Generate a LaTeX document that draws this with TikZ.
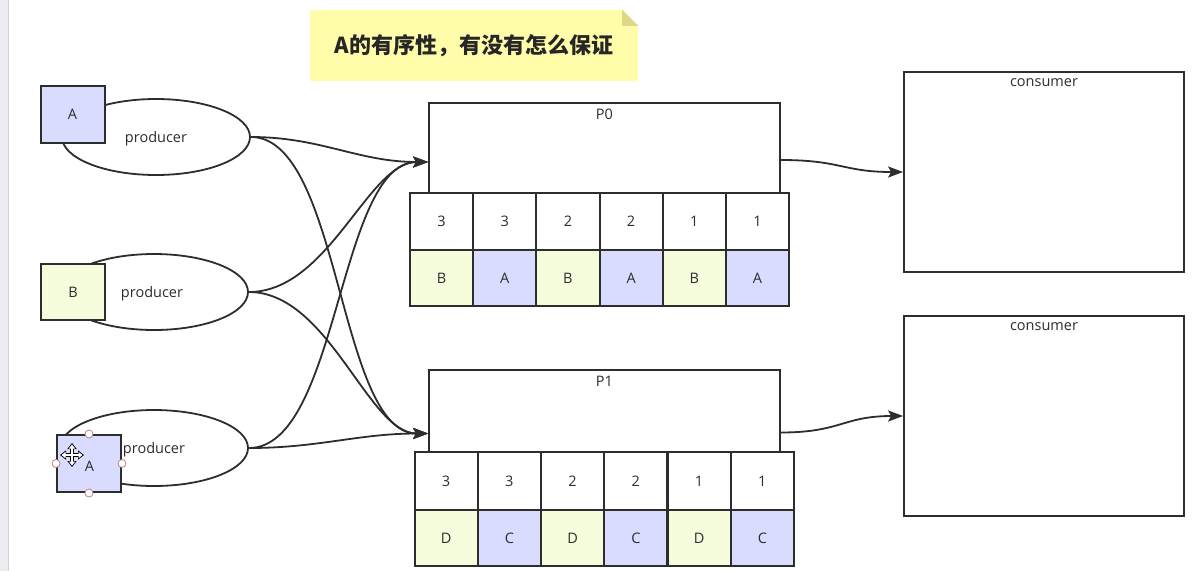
\documentclass[tikz,border=0pt]{standalone}
\usepackage{fontspec}
\setmainfont{Open Sans}
\newfontfamily\cjk{Noto Sans CJK SC}
\usetikzlibrary{arrows.meta,shapes.geometric}

\definecolor{linegray}{RGB}{45,45,45}
\definecolor{lavender}{RGB}{218,220,255}
\definecolor{paleyellow}{RGB}{246,253,220}
\definecolor{notefill}{RGB}{255,253,170}
\definecolor{notefold}{RGB}{222,216,134}
\definecolor{handlered}{RGB}{190,130,130}
\definecolor{stripgray}{RGB}{236,237,240}

\begin{document}
\begin{tikzpicture}[x=1pt,y=1pt,yscale=-1,
	txt/.style={font=\fontsize{14.5}{17}\selectfont, text=linegray},
	keybox/.style={rectangle, draw=linegray, line width=2pt, inner sep=0pt, minimum width=64pt, minimum height=57pt, txt},
	prod/.style={ellipse, draw=linegray, line width=1.8pt, fill=white, minimum width=188pt, minimum height=76pt, inner sep=0pt},
	partbox/.style={rectangle, draw=linegray, line width=1.8pt, fill=white, inner sep=0pt},
	cellbox/.style={rectangle, draw=linegray, line width=2pt, inner sep=0pt, minimum width=63.2pt, minimum height=57pt, txt},
	toplabel/.style={txt, anchor=north, inner sep=7pt},
	flow/.style={draw=linegray, line width=1.8pt, -{Stealth[length=15pt,width=11pt,inset=3pt]}},
	handle/.style={circle, draw=handlered, fill=white, line width=0.8pt, minimum size=8pt, inner sep=0pt}]
	\useasboundingbox (0,0) rectangle (1201,571);
	
	%Shape: side strip
	\fill[stripgray] (0,0) rectangle (8,571);
	\draw[gray!35] (8,0) -- (8,571);
	
	%Shape: Note
	\node[rectangle, fill=notefill, minimum width=328pt, minimum height=71pt, inner sep=0pt, font=\cjk\bfseries\fontsize{22}{26}\selectfont, text=black!85] (note) at (474,45.5) {A的有序性，有没有怎么保证};
	\fill[white] ([xshift=-16pt]note.north east) -- (note.north east) -- ([yshift=16pt]note.north east) -- cycle;
	\fill[notefold] ([xshift=-16pt]note.north east) -- ([yshift=16pt]note.north east) -- ([xshift=-16pt,yshift=16pt]note.north east) -- cycle;
	
	%Shape: producers
	\node[prod] (e1) at (156,137) {};
	\node[prod] (e2) at (154,292) {};
	\node[prod] (e3) at (154,448) {};
	% Text Node
	\node[txt] (e1t) at (156,138.5) {producer};
	\node[txt] (e2t) at (152,293.5) {producer};
	
	%Shape: key boxes
	\node[keybox, fill=lavender] (A1) at (72.5,114.5) {A};
	\node[keybox, fill=paleyellow, minimum height=56pt] (B2) at (73,292) {B};
	\node[keybox, fill=lavender] (A3) at (89,463.5) {};
	\node[txt] (A3t) at (89.5,466) {A};
	% Text Node
	\node[txt] (e3t) at (154,449.5) {producer};
	\foreach \a in {north,south,west,east}
		\node[handle] (h\a) at (A3.\a) {};
	% move cursor
	\coordinate (mv) at (72,455);
	\draw[black, line width=4.2pt, {Triangle[length=6pt,width=9pt]}-{Triangle[length=6pt,width=9pt]}] ([xshift=-12pt]mv) -- ([xshift=12pt]mv);
	\draw[black, line width=4.2pt, {Triangle[length=6pt,width=9pt]}-{Triangle[length=6pt,width=9pt]}] ([yshift=12pt]mv) -- ([yshift=-12pt]mv);
	\draw[white, line width=2pt, {Triangle[length=4pt,width=6pt]}-{Triangle[length=4pt,width=6pt]}] ([xshift=-10.5pt]mv) -- ([xshift=10.5pt]mv);
	\draw[white, line width=2pt, {Triangle[length=4pt,width=6pt]}-{Triangle[length=4pt,width=6pt]}] ([yshift=10.5pt]mv) -- ([yshift=-10.5pt]mv);
	
	%Shape: partitions
	\node[partbox, minimum width=351pt, minimum height=90pt] (P0) at (604.5,148) {};
	\node[toplabel] (P0t) at (P0.north) {P0};
	\node[partbox, minimum width=351pt, minimum height=82pt] (P1) at (604.5,411) {};
	\node[toplabel] (P1t) at (P1.north) {P1};
	
	%Shape: cells
	\foreach \n/\l/\c [count=\i] in {3/B/paleyellow,3/A/lavender,2/B/paleyellow,2/A/lavender,1/B/paleyellow,1/A/lavender}{
		\node[cellbox, fill=white] (P0n\i) at ({410+63.17*(\i-0.5)},221.5) {\n};
		\node[cellbox, fill=\c, minimum height=56pt] (P0k\i) at ({410+63.17*(\i-0.5)},278) {\l};
	}
	\foreach \n/\l/\c [count=\i] in {3/D/paleyellow,3/C/lavender,2/D/paleyellow,2/C/lavender,1/D/paleyellow,1/C/lavender}{
		\node[cellbox, fill=white, minimum height=58pt] (P1n\i) at ({414.5+63.25*(\i-0.5)},481) {\n};
		\node[cellbox, fill=\c, minimum height=56pt] (P1k\i) at ({414.5+63.25*(\i-0.5)},538) {\l};
	}
	
	%Shape: consumers
	\node[partbox, minimum width=280pt, minimum height=200pt] (C0) at (1044,172) {};
	\node[toplabel] (C0t) at (C0.north) {consumer};
	\node[partbox, minimum width=280pt, minimum height=200pt] (C1) at (1044,416) {};
	\node[toplabel] (C1t) at (C1.north) {consumer};
	
	%Curve Lines
	\coordinate (P0in) at ([yshift=14pt]P0.west);
	\coordinate (P1in) at ([yshift=22.5pt]P1.west);
	\coordinate (P0out) at ([yshift=12pt]P0.east);
	\coordinate (P1out) at ([yshift=21.5pt]P1.east);
	\draw[flow] (e1.east) .. controls +(70,0) and +(-70,0) .. (P0in);
	\draw[flow] (e1.east) .. controls +(90,0) and +(-90,0) .. (P1in);
	\draw[flow] (e2.east) .. controls +(80,0) and +(-60,0) .. (P0in);
	\draw[flow] (e2.east) .. controls +(80,0) and +(-60,0) .. (P1in);
	\draw[flow] (e3.east) .. controls +(90,0) and +(-90,0) .. (P0in);
	\draw[flow] (e3.east) .. controls +(70,0) and +(-70,0) .. (P1in);
	\draw[flow] (P0out) .. controls +(60,0) and +(-60,0) .. (C0.west);
	\draw[flow] (P1out) .. controls +(60,0) and +(-60,0) .. (C1.west);
\end{tikzpicture}
\end{document}
